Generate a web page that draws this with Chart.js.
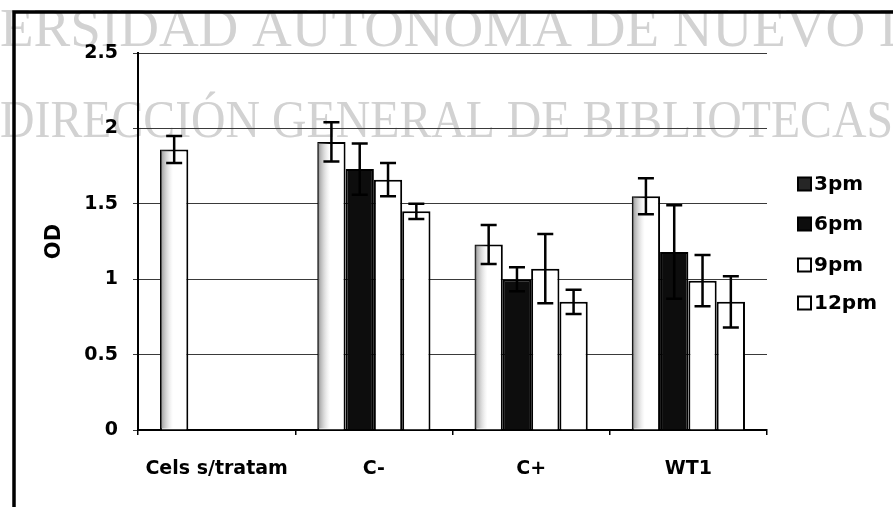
<!DOCTYPE html>
<html>
<head>
<meta charset="utf-8">
<script src="https://cdn.jsdelivr.net/npm/chart.js@4"></script>
<style>
  html, body { margin: 0; padding: 0; background: #fff; }
  #wrap { width: 893px; height: 507px; position: relative; }
</style>
</head>
<body>
<div id="wrap"><canvas id="c" width="893" height="507"></canvas></div>
<script>
// Optical density per sample and reading time
const categories = ['Cels s/tratam', 'C-', 'C+', 'WT1'];
const seriesNames = ['3pm', '6pm', '9pm', '12pm'];
const od3pm  = [1.86, 1.91, 1.23, 1.55];
const od6pm  = [null, 1.73, 1.00, 1.18];
const od9pm  = [null, 1.66, 1.07, 0.99];
const od12pm = [null, 1.45, 0.85, 0.85];
// standard deviations
const err3pm  = [0.09, 0.13, 0.13, 0.12];
const err6pm  = [null, 0.17, 0.08, 0.31];
const err9pm  = [null, 0.11, 0.23, 0.17];
const err12pm = [null, 0.05, 0.08, 0.17];
const yTicks = [0, 0.5, 1, 1.5, 2, 2.5];
const watermarkLines = ['UNIVERSIDAD AUTONOMA DE NUEVO LEON', 'DIRECCIÓN GENERAL DE BIBLIOTECAS'];

const LABEL_FONT = '"DejaVu Sans", sans-serif';

// Page frame and library watermark, painted under the chart
const backdrop = {
  id: 'backdrop',
  beforeDraw(chart) {
    const ctx = chart.ctx;
    ctx.save();
    ctx.fillStyle = '#fff';
    ctx.fillRect(0, 0, chart.width, chart.height);
    ctx.fillStyle = '#d2d2d2';
    ctx.textBaseline = 'alphabetic';
    ctx.textAlign = 'left';
    ctx.font = '55px "Liberation Serif", serif';
    const lead = ctx.measureText('UNIV').width;
    ctx.fillText(watermarkLines[0], -lead, 46);
    ctx.font = '53px "Liberation Serif", serif';
    ctx.fillText(watermarkLines[1], 0, 137, 893);
    ctx.strokeStyle = '#000';
    ctx.lineWidth = 3.5;
    ctx.beginPath();
    ctx.moveTo(14, 507);
    ctx.lineTo(14, 12);
    ctx.lineTo(893, 12);
    ctx.stroke();
    ctx.restore();
  }
};

// Grey speckled band along the left edge of the 3pm bars
const shading = {
  id: 'shading',
  afterDatasetDraw(chart, args) {
    const ds = chart.data.datasets[args.index];
    if (!ds.edgeShade) return;
    const ctx = chart.ctx;
    ctx.save();
    args.meta.data.forEach((bar, i) => {
      if (ds.data[i] == null) return;
      const left = bar.x - bar.width / 2 + 1;
      const g = ctx.createLinearGradient(left, 0, left + 12, 0);
      g.addColorStop(0, 'rgba(120,120,120,0.75)');
      g.addColorStop(1, 'rgba(200,200,200,0)');
      ctx.fillStyle = g;
      ctx.fillRect(left, bar.y + 1, 12, bar.base - bar.y - 2);
    });
    ctx.restore();
  }
};

// Error bars with caps
const errorBars = {
  id: 'errorBars',
  afterDatasetsDraw(chart) {
    const ctx = chart.ctx;
    const y = chart.scales.y;
    ctx.save();
    ctx.strokeStyle = '#000';
    ctx.lineWidth = 2.5;
    chart.data.datasets.forEach((ds, di) => {
      const meta = chart.getDatasetMeta(di);
      meta.data.forEach((bar, i) => {
        const v = ds.data[i], e = ds.errors[i];
        if (v == null || e == null) return;
        const top = y.getPixelForValue(v + e);
        const bot = y.getPixelForValue(v - e);
        const cap = 8;
        ctx.beginPath();
        ctx.moveTo(bar.x, top); ctx.lineTo(bar.x, bot);
        ctx.moveTo(bar.x - cap, top); ctx.lineTo(bar.x + cap, top);
        ctx.moveTo(bar.x - cap, bot); ctx.lineTo(bar.x + cap, bot);
        ctx.stroke();
      });
    });
    ctx.restore();
  }
};

// Legend at the right of the plot
const sideLegend = {
  id: 'sideLegend',
  afterDraw(chart) {
    const ctx = chart.ctx;
    const rows = [184, 224, 265, 303];
    ctx.save();
    ctx.font = 'bold 20px ' + LABEL_FONT;
    ctx.textBaseline = 'middle';
    ctx.textAlign = 'left';
    chart.data.datasets.forEach((ds, i) => {
      const cy = rows[i];
      ctx.fillStyle = ds.legendFill;
      ctx.fillRect(798, cy - 6.5, 13, 13);
      ctx.strokeStyle = '#000';
      ctx.lineWidth = 2;
      ctx.strokeRect(798, cy - 6.5, 13, 13);
      ctx.fillStyle = '#000';
      ctx.fillText(ds.label, 814, cy + 1);
    });
    ctx.restore();
  }
};

const seriesValues = [od3pm, od6pm, od9pm, od12pm];
const seriesErrors = [err3pm, err6pm, err9pm, err12pm];
const fills = ['#ffffff', '#0d0d0d', '#ffffff', '#ffffff'];
const legendFills = ['#262626', '#0d0d0d', '#ffffff', '#ffffff'];

const datasets = seriesNames.map((name, i) => ({
  label: name,
  data: seriesValues[i],
  errors: seriesErrors[i],
  backgroundColor: fills[i],
  legendFill: legendFills[i],
  edgeShade: i === 0,
  borderColor: '#000',
  borderWidth: 2,
  borderSkipped: 'bottom',
  categoryPercentage: 0.72,
  barPercentage: 1.0
}));

new Chart(document.getElementById('c'), {
  type: 'bar',
  data: { labels: categories, datasets },
  plugins: [backdrop, shading, errorBars, sideLegend],
  options: {
    responsive: false,
    animation: false,
    layout: { padding: { left: 40, right: 126, top: 53, bottom: 0 } },
    plugins: {
      legend: { display: false },
      tooltip: { enabled: false }
    },
    scales: {
      x: {
        afterFit(s) { s.height = 77; },
        grid: {
          display: true,
          drawOnChartArea: false,
          drawTicks: true,
          tickLength: 5,
          color: '#000',
          lineWidth: 1.5,
          offset: true
        },
        border: { display: true, color: '#000', width: 2 },
        ticks: {
          color: '#000',
          padding: 23,
          maxRotation: 0,
          font: { family: LABEL_FONT, size: 19, weight: 'bold' }
        }
      },
      y: {
        min: 0,
        max: 2.5,
        afterFit(s) { s.width = 98; },
        afterBuildTicks(s) { s.ticks = yTicks.map(v => ({ value: v })); },
        grid: {
          color: '#3a3a3a',
          lineWidth: 1,
          drawTicks: true,
          tickLength: 5
        },
        border: { display: true, color: '#000', width: 2 },
        ticks: {
          color: '#000',
          padding: 15,
          font: { family: LABEL_FONT, size: 19, weight: 'bold' },
          callback: v => String(v)
        },
        title: {
          display: true,
          text: 'OD',
          color: '#000',
          padding: { top: 2, bottom: 0 },
          font: { family: LABEL_FONT, size: 21, weight: 'bold' }
        }
      }
    }
  }
});
</script>
</body>
</html>
